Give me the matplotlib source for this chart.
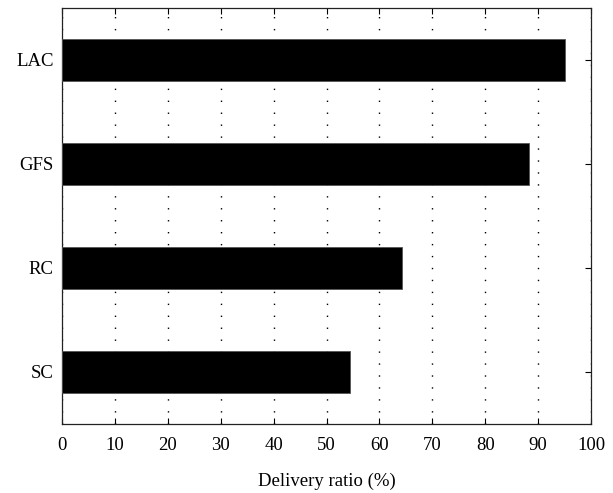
import matplotlib
matplotlib.use('Agg')
import matplotlib.pyplot as plt

# delivery ratio per scheme, bottom to top
schemes = ['SC', 'RC', 'GFS', 'LAC']
ratio = [54.4, 64.3, 88.3, 95.0]
xticks = [0, 10, 20, 30, 40, 50, 60, 70, 80, 90, 100]

plt.rcParams['font.family'] = ['Liberation Serif', 'DejaVu Serif']

fig = plt.figure(figsize=(6.13, 4.93), dpi=100)
ax = fig.add_axes([62 / 613, 1 - 424 / 493, 529 / 613, 416 / 493])

ypos = list(range(1, len(schemes) + 1))
ax.barh(ypos, ratio, height=0.41, color='black', edgecolor='#555555', linewidth=0.6, zorder=3)

ax.set_xlim(0, 100)
ax.set_ylim(0.5, len(schemes) + 0.5)
ax.set_xticks(xticks)
ax.set_xticklabels([str(t) for t in xticks])
ax.set_yticks(ypos)
ax.set_yticklabels(schemes)

# sparse dotted vertical grid
ax.xaxis.grid(True, color='black', linewidth=1.0, linestyle=(0, (1, 7.6)), zorder=1)
ax.set_axisbelow(True)

ax.tick_params(axis='both', direction='in', top=True, right=True, length=4,
               width=0.8, labelsize=13.5, colors='black', pad=9)
ax.tick_params(axis='y', pad=6)
for s in ax.spines.values():
    s.set_linewidth(0.9)
    s.set_color('#222222')

ax.set_xlabel('Delivery ratio (%)', fontsize=13.5, labelpad=14)

fig.savefig('out.png', dpi=100)
